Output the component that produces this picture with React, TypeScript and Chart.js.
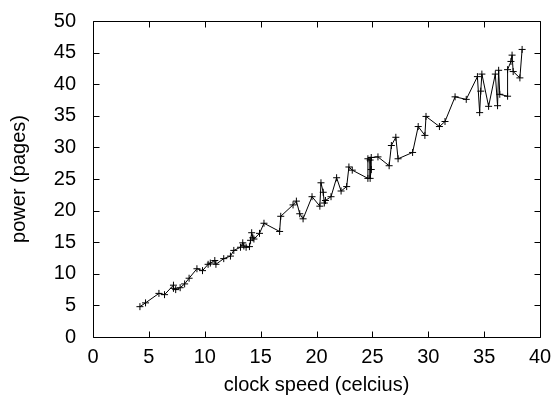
import React, { useEffect, useRef } from "react";
import { Chart, registerables } from "chart.js";

Chart.register(...registerables);

const clockSpeed: number[] = [
  4.2, 4.7, 5.9, 6.4, 7.2, 7.2, 7.4, 7.8, 8.2, 8.6, 9.3, 9.8, 10.3, 10.5, 10.9, 11.0, 11.7, 12.3, 12.6,
  13.2, 13.4, 13.5, 13.7, 14.0, 14.1, 14.2, 14.3, 14.4, 14.9, 15.3, 16.7, 16.8, 17.9, 18.2, 18.5, 18.8,
  19.6, 20.3, 20.4, 20.6, 20.7, 20.8, 21.3, 21.8, 22.2, 22.7, 22.9, 23.2, 24.6, 24.6, 24.8, 24.8, 24.9,
  24.9, 25.5, 26.5, 26.7, 27.1, 27.3, 28.6, 29.1, 29.7, 29.8, 31.0, 31.5, 32.4, 33.4, 34.4, 34.6, 34.7,
  34.8, 35.4, 36.0, 36.2, 36.3, 36.4, 37.1, 37.1, 37.4, 37.5, 37.6, 38.2, 38.4,
];

const powerPages: number[] = [
  4.8, 5.4, 6.9, 6.7, 8.2, 7.7, 7.5, 7.8, 8.4, 9.3, 10.8, 10.5, 11.5, 11.7, 12.1, 11.5, 12.4, 12.8, 13.7,
  14.2, 14.9, 14.4, 14.2, 14.3, 15.3, 16.5, 15.7, 15.5, 16.4, 18.0, 16.7, 19.1, 20.9, 21.5, 19.5, 18.7,
  22.2, 20.7, 24.4, 22.9, 21.2, 21.6, 22.2, 25.2, 23.1, 23.8, 26.9, 26.4, 25.1, 28.2, 28.0, 25.1, 26.5,
  28.4, 28.5, 27.1, 30.3, 31.6, 28.2, 29.2, 33.3, 31.9, 34.9, 33.3, 34.1, 38.0, 37.6, 41.2, 35.5, 38.9,
  41.6, 36.5, 41.6, 36.6, 42.2, 38.4, 38.1, 42.3, 43.6, 44.6, 42.0, 41.0, 45.5,
];

const xTicks: number[] = [0, 5, 10, 15, 20, 25, 30, 35, 40];
const yTicks: number[] = [0, 5, 10, 15, 20, 25, 30, 35, 40, 45, 50];

const xTitle = "clock speed (celcius)";
const yTitle = "power (pages)";

const FONT = "'Liberation Sans', Arial, Helvetica, sans-serif";

const framePlugin = {
  id: "gnuFrame",
  afterDraw(chart: any) {
    const { ctx, chartArea: a, scales } = chart;
    ctx.save();
    ctx.strokeStyle = "#000";
    ctx.lineWidth = 1;
    const L = Math.round(a.left) + 0.5;
    const R = Math.round(a.right) + 0.5;
    const T = Math.round(a.top) + 0.5;
    const B = Math.round(a.bottom) + 0.5;
    ctx.beginPath();
    ctx.rect(L, T, R - L, B - T);
    const len = 6;
    xTicks.forEach((v) => {
      const px = Math.round(scales.x.getPixelForValue(v)) + 0.5;
      ctx.moveTo(px, B);
      ctx.lineTo(px, B - len);
      ctx.moveTo(px, T);
      ctx.lineTo(px, T + len);
    });
    yTicks.forEach((v) => {
      const py = Math.round(scales.y.getPixelForValue(v)) + 0.5;
      ctx.moveTo(L, py);
      ctx.lineTo(L + len, py);
      ctx.moveTo(R, py);
      ctx.lineTo(R - len, py);
    });
    ctx.stroke();
    ctx.restore();
  },
};

export default function App() {
  const ref = useRef<HTMLCanvasElement | null>(null);

  useEffect(() => {
    document.body.style.margin = "0";
    const canvas = ref.current;
    if (!canvas) return;
    const points = clockSpeed.map((x, i) => ({ x, y: powerPages[i] }));
    const chart = new Chart(canvas, {
      type: "line",
      data: {
        datasets: [
          {
            data: points,
            borderColor: "#000",
            borderWidth: 1,
            pointStyle: "cross",
            pointRadius: 3.5,
            pointBorderColor: "#000",
            pointBorderWidth: 1,
            pointBackgroundColor: "#000",
            fill: false,
            tension: 0,
          },
        ],
      },
      options: {
        animation: false,
        responsive: false,
        devicePixelRatio: 1,
        layout: { padding: { top: 17, right: 17, left: 0, bottom: 0 } },
        plugins: { legend: { display: false }, tooltip: { enabled: false } },
        scales: {
          x: {
            type: "linear",
            min: 0,
            max: 40,
            grid: { display: false },
            border: { display: false },
            afterFit: (s: any) => {
              s.height = 62;
            },
            afterBuildTicks: (s: any) => {
              s.ticks = xTicks.map((v) => ({ value: v }));
            },
            ticks: {
              color: "#000",
              padding: 0,
              font: { family: FONT, size: 20 },
              maxRotation: 0,
            },
            title: {
              display: true,
              text: xTitle,
              color: "#000",
              font: { family: FONT, size: 20 },
              padding: { top: 0, bottom: 2 },
            },
          },
          y: {
            type: "linear",
            min: 0,
            max: 50,
            grid: { display: false },
            border: { display: false },
            afterFit: (s: any) => {
              s.width = 93;
            },
            afterBuildTicks: (s: any) => {
              s.ticks = yTicks.map((v) => ({ value: v }));
            },
            ticks: {
              color: "#000",
              padding: 9,
              font: { family: FONT, size: 20 },
            },
            title: {
              display: true,
              text: yTitle,
              color: "#000",
              font: { family: FONT, size: 20 },
              padding: { top: 7, bottom: 0 },
            },
          },
        },
      },
      plugins: [framePlugin],
    });
    return () => chart.destroy();
  }, []);

  return (
    <div style={{ position: "absolute", left: 0, top: 0, width: 557, height: 399, background: "#fff" }}>
      <canvas ref={ref} width={557} height={399} style={{ width: 557, height: 399 }} />
    </div>
  );
}
